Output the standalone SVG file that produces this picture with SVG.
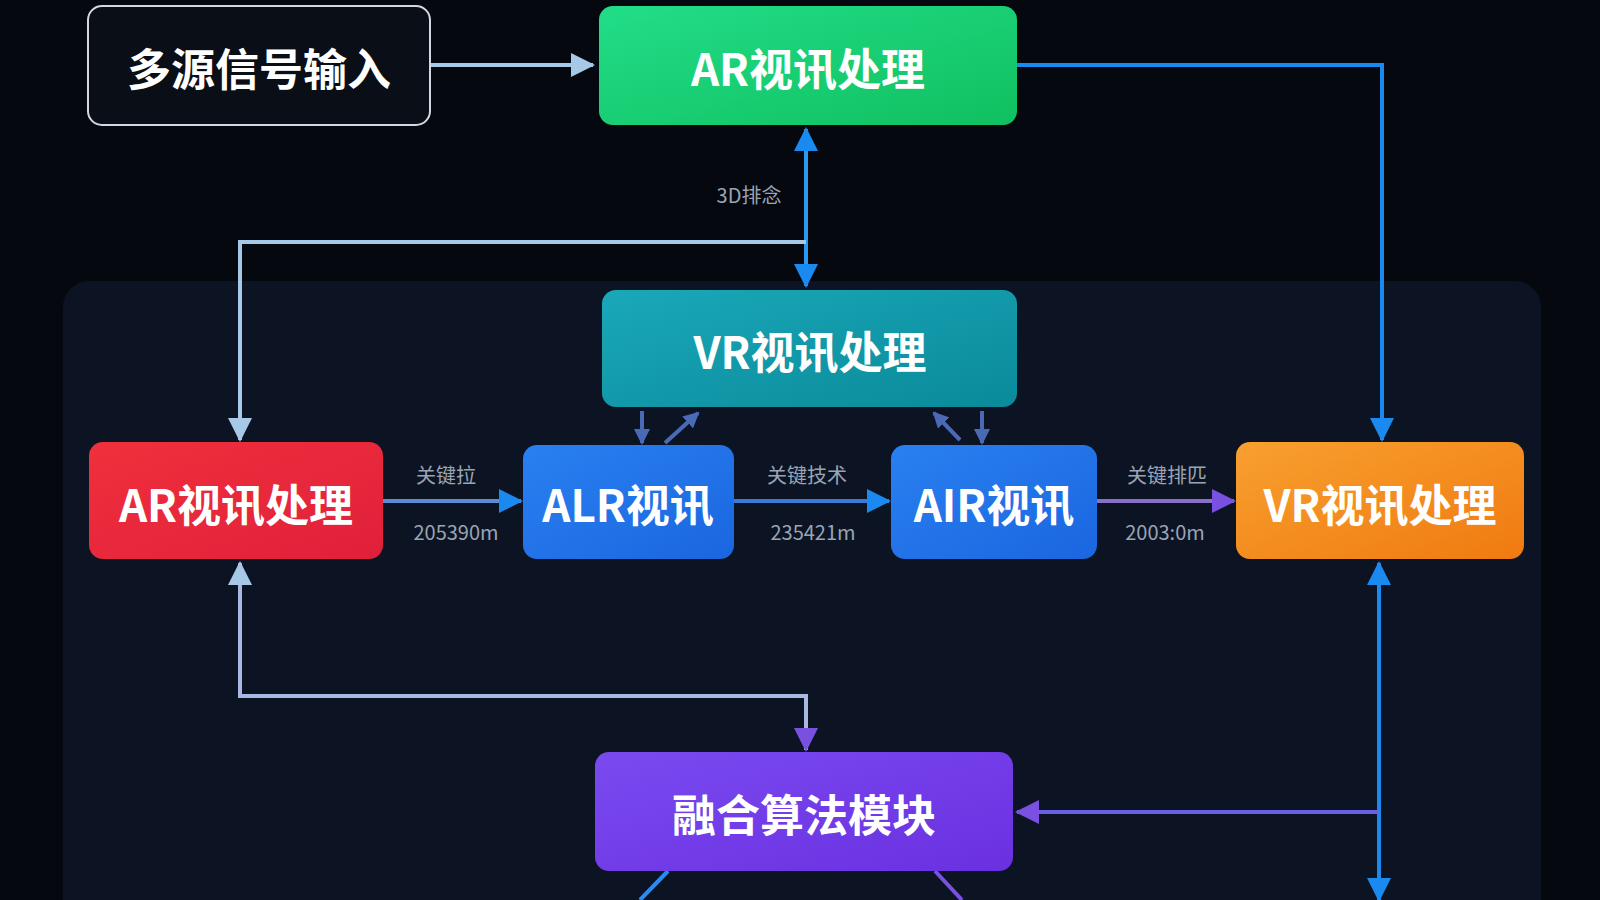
<svg xmlns="http://www.w3.org/2000/svg" width="1600" height="900" viewBox="0 0 1600 900">
<defs>
<linearGradient id="gGreen" x1="0" y1="0" x2="1" y2="1"><stop offset="0" stop-color="#22dd88"/><stop offset="1" stop-color="#10c060"/></linearGradient>
<linearGradient id="gTeal" x1="0" y1="0" x2="1" y2="1"><stop offset="0" stop-color="#1aa8b8"/><stop offset="1" stop-color="#0a8a9a"/></linearGradient>
<linearGradient id="gRed" x1="0" y1="0" x2="1" y2="1"><stop offset="0" stop-color="#f0303c"/><stop offset="1" stop-color="#e0203a"/></linearGradient>
<linearGradient id="gBlue" x1="0" y1="0" x2="1" y2="1"><stop offset="0" stop-color="#2a80f0"/><stop offset="1" stop-color="#1a66e0"/></linearGradient>
<linearGradient id="gOrange" x1="0" y1="0" x2="1" y2="1"><stop offset="0" stop-color="#f8a030"/><stop offset="1" stop-color="#f07a10"/></linearGradient>
<linearGradient id="gPurple" x1="0" y1="0" x2="1" y2="1"><stop offset="0" stop-color="#7a4af0"/><stop offset="1" stop-color="#6a30e0"/></linearGradient>
<marker id="aBlue" markerWidth="10" markerHeight="10" refX="8" refY="5" orient="auto-start-reverse" markerUnits="userSpaceOnUse" viewBox="0 0 10 10"><path d="M0,0 L10,5 L0,10 Z" fill="#2a9af0"/></marker>
<marker id="aLight" markerWidth="24" markerHeight="24" refX="22" refY="12" orient="auto-start-reverse" markerUnits="userSpaceOnUse"><path d="M0,0 L24,12 L0,24 Z" fill="#a8c8e8"/></marker>
<marker id="aB" markerWidth="24" markerHeight="24" refX="22" refY="12" orient="auto-start-reverse" markerUnits="userSpaceOnUse"><path d="M0,0 L24,12 L0,24 Z" fill="#1a8af0"/></marker>
<marker id="aP" markerWidth="24" markerHeight="24" refX="22" refY="12" orient="auto-start-reverse" markerUnits="userSpaceOnUse"><path d="M0,0 L24,12 L0,24 Z" fill="#7a50e0"/></marker>
<marker id="aS" markerWidth="16" markerHeight="16" refX="14" refY="8" orient="auto-start-reverse" markerUnits="userSpaceOnUse"><path d="M0,0 L16,8 L0,16 Z" fill="#4a6ab8"/></marker>
</defs>
<style>
.t{font-family:"Noto Sans CJK SC","Noto Sans",sans-serif;font-weight:700;fill:#fff;text-anchor:middle;dominant-baseline:central}
.big{font-size:44px}
.lbl{font-family:"Noto Sans CJK SC","Noto Sans",sans-serif;font-size:20px;fill:#9aa4b4;text-anchor:middle}
.ln{fill:none;stroke-width:4}
</style>
<rect width="1600" height="900" fill="#05080f"/>
<rect x="63" y="281" width="1478" height="660" rx="26" fill="#0c1424"/>
<g id="connectors">
<path class="ln" d="M430,65 H593" stroke="#a8c8e8" marker-end="url(#aLight)"/>
<path class="ln" d="M1017,65 H1382 V440" stroke="#1a8af0" marker-end="url(#aB)"/>
<path class="ln" d="M806,129 V286" stroke="#2a9af0" marker-start="url(#aB)" marker-end="url(#aB)"/>
<path class="ln" d="M806,242 H240 V440" stroke="#a8c8e8" marker-end="url(#aLight)"/>
<path class="ln" d="M383,501 H521" stroke="#5a8ad8" marker-end="url(#aB)"/>
<path class="ln" d="M734,501 H889" stroke="#3a7ad8" marker-end="url(#aB)"/>
<path class="ln" d="M1097,501 H1234" stroke="#8a70c8" marker-end="url(#aP)"/>
<path class="ln" d="M642,411 V443" stroke="#4a6ab8" marker-end="url(#aS)"/>
<path class="ln" d="M665,443 L698,413" stroke="#4a6ab8" marker-end="url(#aS)"/>
<path class="ln" d="M960,440 L934,413" stroke="#4a6ab8" marker-end="url(#aS)"/>
<path class="ln" d="M982,411 V443" stroke="#4a6ab8" marker-end="url(#aS)"/>
<path class="ln" d="M806,750 V696 H240 V563" stroke="#a8b8e0" marker-start="url(#aP)" marker-end="url(#aLight)"/>
<path class="ln" d="M1379,563 V900" stroke="#1a8af0" marker-start="url(#aB)" marker-end="url(#aB)"/>
<path class="ln" d="M1379,812 H1017" stroke="#6a60e8" marker-end="url(#aP)"/>
<path class="ln" d="M668,871 L640,900" stroke="#2a8af0"/>
<path class="ln" d="M935,871 L962,900" stroke="#7a50e0"/>
</g>
<g id="n-input"><rect x="88" y="6" width="342" height="119" rx="14" fill="#0a0e16" stroke="#d0d8e4" stroke-width="2"/><text class="t big" x="259" y="67">多源信号输入</text></g>
<g id="n-ar-top"><rect x="599" y="6" width="418" height="119" rx="14" fill="url(#gGreen)"/><text class="t big" x="808" y="67">AR视讯处理</text></g>
<g id="n-vr-mid"><rect x="602" y="290" width="415" height="117" rx="14" fill="url(#gTeal)"/><text class="t big" x="810" y="350">VR视讯处理</text></g>
<g id="n-ar-red"><rect x="89" y="442" width="294" height="117" rx="14" fill="url(#gRed)"/><text class="t big" x="236" y="503">AR视讯处理</text></g>
<g id="n-alr"><rect x="523" y="445" width="211" height="114" rx="14" fill="url(#gBlue)"/><text class="t big" x="628" y="503">ALR视讯</text></g>
<g id="n-air"><rect x="891" y="445" width="206" height="114" rx="14" fill="url(#gBlue)"/><text class="t big" x="994" y="503">AIR视讯</text></g>
<g id="n-vr-orange"><rect x="1236" y="442" width="288" height="117" rx="14" fill="url(#gOrange)"/><text class="t big" x="1380" y="503">VR视讯处理</text></g>
<g id="n-fusion"><rect x="595" y="752" width="418" height="119" rx="14" fill="url(#gPurple)"/><text class="t big" x="804" y="813">融合算法模块</text></g>
<g id="labels">
<text class="lbl" x="749" y="203">3D排念</text>
<text class="lbl" x="446" y="483">关键拉</text>
<text class="lbl" x="456" y="540">205390m</text>
<text class="lbl" x="807" y="483">关键技术</text>
<text class="lbl" x="813" y="540">235421m</text>
<text class="lbl" x="1167" y="483">关键排匹</text>
<text class="lbl" x="1165" y="540">2003:0m</text>
</g>
</svg>
